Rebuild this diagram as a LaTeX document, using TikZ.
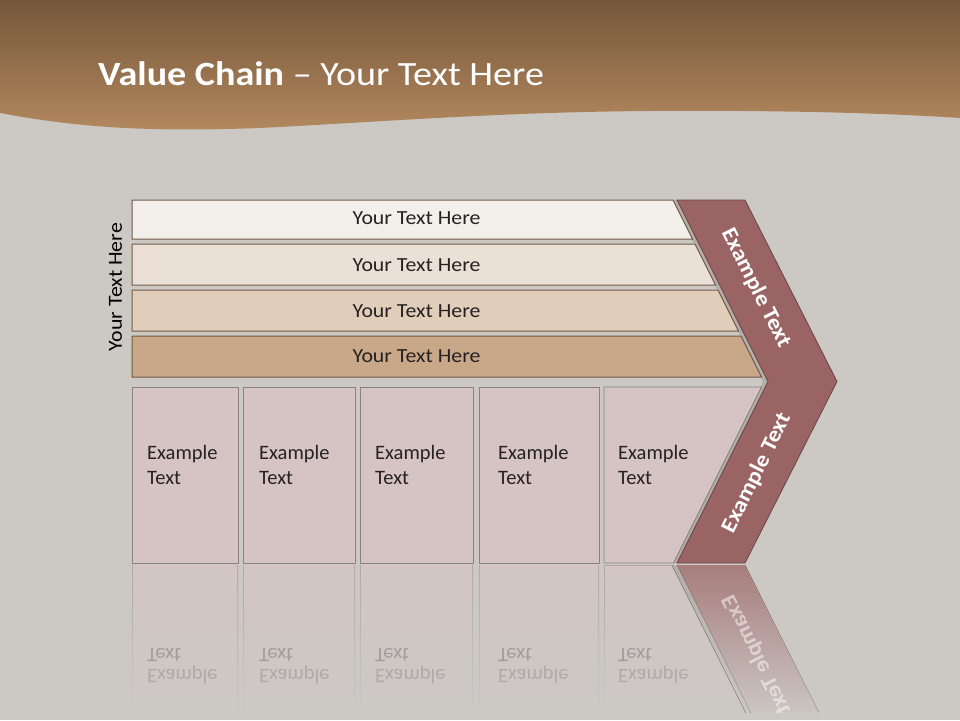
\documentclass[tikz,border=0pt]{standalone}
\usepackage{fontspec}
\setmainfont{Carlito}
\newfontfamily\widefont[FakeStretch=1.09]{Carlito}
\newfontfamily\titlefont[FakeStretch=1.12]{Carlito}
\definecolor{bgg}{HTML}{CCC9C5}
\definecolor{brA}{HTML}{75563A}
\definecolor{brB}{HTML}{B3895F}
\definecolor{rowA}{HTML}{F3EFEA}
\definecolor{rowB}{HTML}{EBE0D5}
\definecolor{rowC}{HTML}{E0CDBA}
\definecolor{rowD}{HTML}{C8A888}
\definecolor{rowline}{HTML}{735a47}
\definecolor{boxf}{HTML}{D6C3C3}
\definecolor{boxl}{HTML}{8A8282}
\definecolor{chev}{HTML}{9A6464}
\definecolor{chevl}{HTML}{6A4444}
\definecolor{gapg}{HTML}{B3AEA9}
\definecolor{txt}{HTML}{262222}
\definecolor{reft}{HTML}{A29D9B}
\begin{document}
\begin{tikzpicture}[x=1pt,y=-1pt,
  rowbox/.style={draw=rowline, line width=1pt},
  rowtext/.style={font=\widefont\fontsize{20}{24}\selectfont, text=txt, inner sep=0pt},
  colbox/.style={draw=boxl, fill=boxf, line width=0.9pt},
  coltext/.style={font=\fontsize{20.5}{25.5}\selectfont, align=left, anchor=base west, text=txt, inner sep=0pt},
  reftext/.style={font=\fontsize{20.5}{25.5}\selectfont, anchor=base west, text=reft, inner sep=0pt, yscale=-1},
  chevtext/.style={font=\widefont\bfseries\fontsize{22}{24}\selectfont, text=white, inner sep=0pt},
]
\useasboundingbox (0,0) rectangle (960,720);
% background
\fill[bgg] (0,0) rectangle (960,720);
% brown wave header
\shade[top color=brA, bottom color=brB]
  (0,0) -- (960,0) -- (960,118)
  .. controls (900,114) and (800,110) .. (650,111)
  .. controls (500,112) and (380,122) .. (260,128)
  .. controls (150,132) and (80,128) .. (0,113) -- cycle;
\node[anchor=base west, font=\titlefont\fontsize{34}{38}\selectfont, text=white, inner sep=0pt]
  (title) at (98,85) {\textbf{Value Chain} – Your Text Here};

% grey gap strip (shadow of chevron)
\fill[gapg] (672,200) -- (740,200) -- (831,381.5) -- (740,563) -- (672,563) -- (763,381.5) -- cycle;
% chevron
\draw[fill=chev, draw=chevl, line width=0.8pt]
  (677,200) -- (745,200) -- (837,381.5) -- (745,563) -- (677,563) -- (768,381.5) -- cycle;
\node[chevtext, rotate=-63.43] (chevtop) at (756,288) {Example Text};
\node[chevtext, rotate=63.43] (chevbot) at (757,473) {Example Text};

% rows
\draw[rowbox, fill=rowA] (132,200) -- (673,200) -- (692.5,239) -- (132,239) -- cycle;
\draw[rowbox, fill=rowB] (132,244) -- (695,244) -- (715.5,285) -- (132,285) -- cycle;
\draw[rowbox, fill=rowC] (132,290) -- (718,290) -- (738.5,331) -- (132,331) -- cycle;
\draw[rowbox, fill=rowD] (132,336) -- (741,336) -- (761.5,377) -- (132,377) -- cycle;
\node[rowtext] (r1) at (416.5,218.5) {Your Text Here};
\node[rowtext] (r2) at (416.5,265.5) {Your Text Here};
\node[rowtext] (r3) at (416.5,311) {Your Text Here};
\node[rowtext] (r4) at (416.5,356.5) {Your Text Here};
\node[rowtext, rotate=90, text=black] (side) at (115.5,287) {Your Text Here};

% columns
\draw[colbox] (132,387) rectangle (238,563);
\draw[colbox] (243,387) rectangle (355,563);
\draw[colbox] (360,387) rectangle (473,563);
\draw[colbox] (479,387) rectangle (599,563);
\draw[colbox] (604,387) -- (761.5,387) -- (673.5,563) -- (604,563) -- cycle;
\node[coltext] (c1) at (147,484.5) {Example\\Text};
\node[coltext] (c2) at (259,484.5) {Example\\Text};
\node[coltext] (c3) at (375,484.5) {Example\\Text};
\node[coltext] (c4) at (498,484.5) {Example\\Text};
\node[coltext] (c5) at (618,484.5) {Example\\Text};

% reflection
\begin{scope}
\clip (0,564) rectangle (960,712);
\foreach \a/\b in {132/238, 243/355, 360/473, 479/599} {
  \fill[top color=boxl!45!bgg, bottom color=bgg] (\a,565) rectangle (\b,720);
  \fill[top color=boxf!60!bgg, bottom color=bgg] (\a+1,565) rectangle (\b-1,720);
}
\fill[top color=boxl!45!bgg, bottom color=bgg] (604,565) -- (673.5,565) -- (751,720) -- (604,720) -- cycle;
\fill[top color=boxf!60!bgg, bottom color=bgg] (605,566) -- (672,566) -- (749,720) -- (605,720) -- cycle;
\fill[top color=gapg, bottom color=bgg] (672,565) -- (740,565) -- (817.5,720) -- (749.5,720) -- cycle;
\fill[top color=chev!75!bgg, bottom color=bgg] (677,565) -- (745,565) -- (822.5,720) -- (754.5,720) -- cycle;
\begin{scope}
  \clip (677,565) -- (745,565) -- (822.5,720) -- (754.5,720) -- cycle;
  \node[chevtext, text=white, opacity=0.5, rotate=-63.43, yscale=-1] (chevref) at (757,655) {Example Text};
\end{scope}
\end{scope}
\foreach \x/\n in {147/1, 259/2, 375/3, 498/4, 618/5} {
  \node[reftext] (rt\n) at (\x,648) {Text};
  \node[reftext, text=reft!70!bgg] (re\n) at (\x,669) {Example};
}
\end{tikzpicture}
\end{document}
